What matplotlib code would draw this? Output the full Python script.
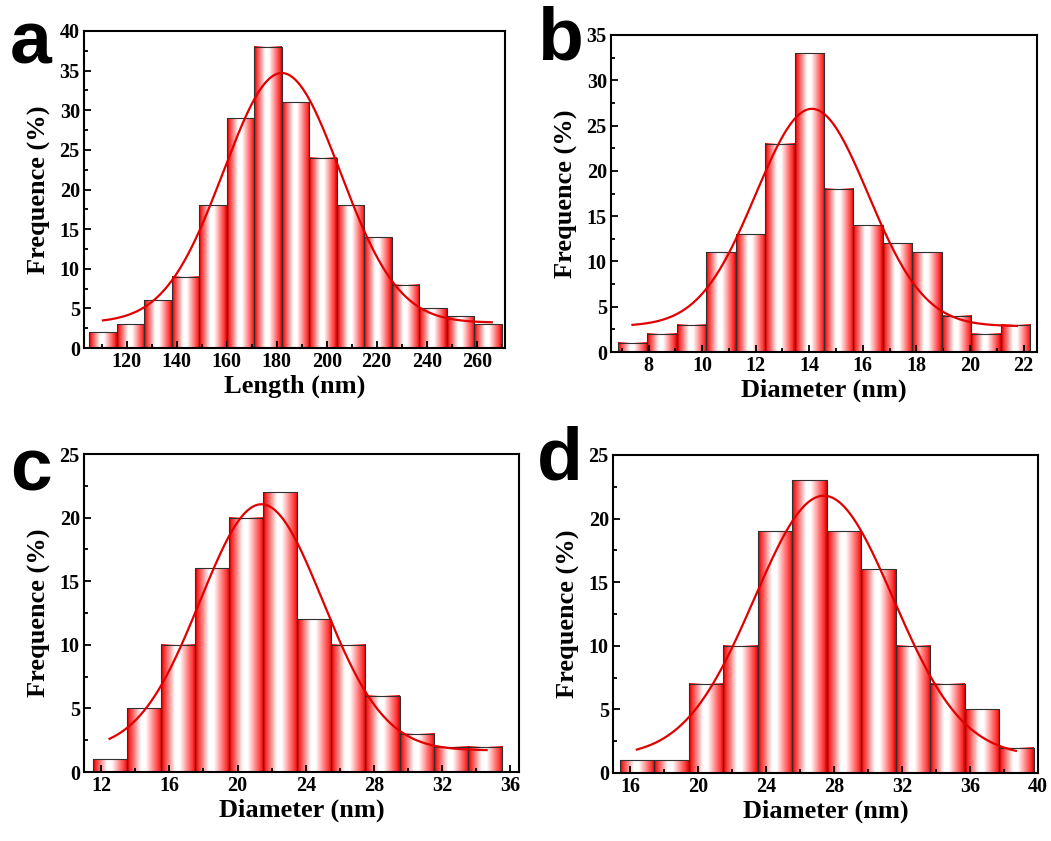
import numpy as np
import matplotlib
matplotlib.use('Agg')
import matplotlib.pyplot as plt
from matplotlib.colors import LinearSegmentedColormap
from matplotlib.ticker import MultipleLocator

# histogram data
a_start, a_width = 105.0, 11.0
a_counts = [2, 3, 6, 9, 18, 29, 38, 31, 24, 18, 14, 8, 5, 4, 3]

b_start, b_width = 6.85, 1.1
b_counts = [1, 2, 3, 11, 13, 23, 33, 18, 14, 12, 11, 4, 2, 3]

c_start, c_width = 11.5, 2.0
c_counts = [1, 5, 10, 16, 20, 22, 12, 10, 6, 3, 2, 2]

d_start, d_width = 15.4, 2.03
d_counts = [1, 1, 7, 10, 19, 23, 19, 16, 10, 7, 5, 2]

# gaussian fit params: y0, xc, sigma, A, x range
a_fit = (3.2, 182.0, 23.3, 31.5, 110.5, 266.0)
b_fit = (2.85, 14.1, 2.1, 24.0, 7.4, 21.75)
c_fit = (1.7, 21.4, 3.6, 19.35, 12.5, 34.6)
d_fit = (1.3, 27.4, 4.08, 20.5, 16.4, 38.7)

plt.rcParams['font.family'] = 'Liberation Serif'
plt.rcParams['font.weight'] = 'bold'

cmap = LinearSegmentedColormap.from_list('bar', [
    (0.0, '#c00000'), (0.06, '#ff1f1f'), (0.40, '#ffffff'),
    (0.54, '#ffffff'), (0.92, '#ff3030'), (1.0, '#dc0000')])
grad = np.linspace(0, 1, 64).reshape(1, -1)

W, H = 1051, 841
fig = plt.figure(figsize=(W / 100, H / 100), dpi=100)


def make_ax(l, r, t, b):
    return fig.add_axes([l / W, (H - b) / H, (r - l) / W, (b - t) / H])


def panel(ax, start, width, counts, fit, xlim, ylim, xmaj, xmin, xlabel, letter, lpos):
    edges = start + width * np.arange(len(counts) + 1)
    for i, h in enumerate(counts):
        x0, x1 = edges[i], edges[i + 1]
        ax.imshow(grad, extent=[x0, x1, 0, h], aspect='auto', cmap=cmap,
                  interpolation='bicubic', zorder=1)
        ax.add_patch(plt.Rectangle((x0, 0), width, h, fill=False,
                                   ec='#303030', lw=0.8, zorder=2))
    y0, xc, w, A, xa, xb = fit
    xs = np.linspace(xa, xb, 300)
    ax.plot(xs, y0 + A * np.exp(-(xs - xc) ** 2 / (2 * w ** 2)),
            color='#e00000', lw=1.6, zorder=3)
    ax.set_xlim(*xlim)
    ax.set_ylim(*ylim)
    ax.xaxis.set_major_locator(MultipleLocator(xmaj))
    ax.xaxis.set_minor_locator(MultipleLocator(xmin))
    ax.yaxis.set_major_locator(MultipleLocator(5))
    ax.yaxis.set_minor_locator(MultipleLocator(2.5))
    ax.tick_params(which='both', direction='in', top=False, right=False,
                   labelsize=14.5, width=1.3, pad=3)
    ax.tick_params(which='major', length=5)
    ax.tick_params(which='minor', length=3)
    for s in ax.spines.values():
        s.set_linewidth(1.5)
    ax.set_xlabel(xlabel, fontsize=19, fontweight='bold', labelpad=2)
    ax.set_ylabel('Frequence (%)', fontsize=19, fontweight='bold', labelpad=6)
    fig.text(lpos[0] / W, 1 - lpos[1] / H, letter, fontsize=54,
             fontweight='bold', family='Liberation Sans', va='baseline')


ax_a = make_ax(84, 505, 31, 348)
ax_b = make_ax(611, 1037, 35, 352)
ax_c = make_ax(84, 519, 454, 772)
ax_d = make_ax(613, 1038, 455, 773)

panel(ax_a, a_start, a_width, a_counts, a_fit, (102.9, 271.3), (0, 40), 20, 10,
      'Length (nm)', 'a', (10, 63))
panel(ax_b, b_start, b_width, b_counts, b_fit, (6.6, 22.5), (0, 35), 2, 1,
      'Diameter (nm)', 'b', (537, 60))
panel(ax_c, c_start, c_width, c_counts, c_fit, (11.0, 36.5), (0, 25), 4, 2,
      'Diameter (nm)', 'c', (10, 490))
panel(ax_d, d_start, d_width, d_counts, d_fit, (15.0, 40.0), (0, 25), 4, 2,
      'Diameter (nm)', 'd', (537, 479))

fig.savefig('out.png', dpi=100)
